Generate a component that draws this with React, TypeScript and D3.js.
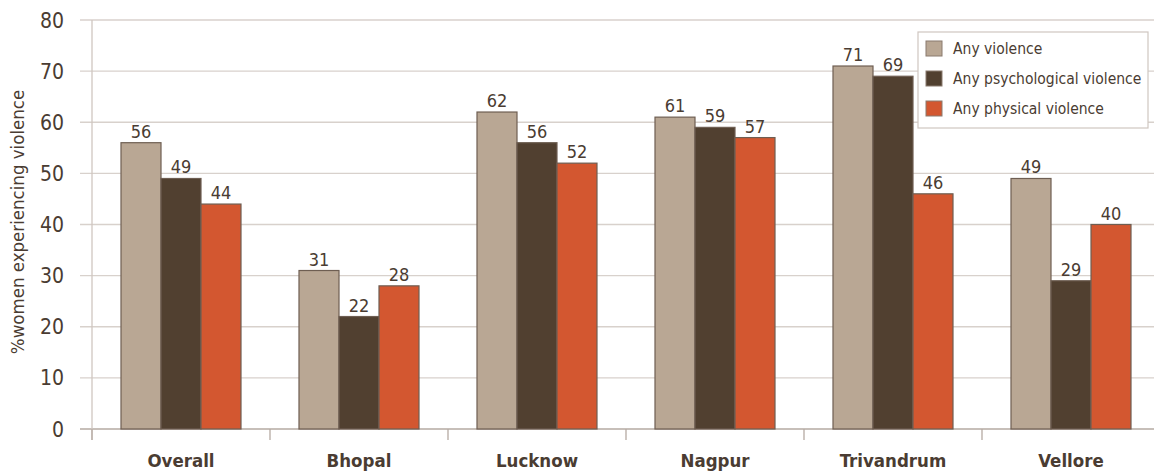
import React from "react";
import * as d3 from "d3";

const categories = ["Overall", "Bhopal", "Lucknow", "Nagpur", "Trivandrum", "Vellore"];
const seriesNames = ["Any violence", "Any psychological violence", "Any physical violence"];
const anyViolence = [56, 31, 62, 61, 71, 49];
const psychological = [49, 22, 56, 59, 69, 29];
const physical = [44, 28, 52, 57, 46, 40];
const yTicks = [0, 10, 20, 30, 40, 50, 60, 70, 80];
const colors = ["#b9a794", "#514030", "#d35730"];

const W = 1154;
const H = 475;
const FONT = "'DejaVu Sans Condensed', 'DejaVu Sans', sans-serif";
const TXT = "#4a3c32";

export default function App() {
  const series = [anyViolence, psychological, physical];
  const x = d3.scaleBand<string>().domain(categories).range([92, 92 + 6 * 178]).paddingInner(0).paddingOuter(0);
  const inner = d3.scaleBand<number>().domain([0, 1, 2]).range([0, x.bandwidth()]).paddingInner(0).paddingOuter(0.725);
  const y = d3.scaleLinear().domain([0, 80]).range([429, 20]);

  return (
    <svg width={W} height={H} style={{ position: "absolute", left: 0, top: 0, background: "#fff" }}>
      {/* grid */}
      {yTicks.map((t) => (
        <g key={t}>
          <line x1={80} x2={W} y1={y(t)} y2={y(t)} stroke={t === 0 ? "#b5aaa2" : "#d8d1cc"} strokeWidth={1.3} />
          <text x={64} y={y(t)} dy="0.36em" textAnchor="end" fontFamily={FONT} fontStretch="condensed" fontSize={21} fill={TXT}>
            {t}
          </text>
        </g>
      ))}
      {/* y axis line */}
      <line x1={92} x2={92} y1={20} y2={440} stroke="#cfc6c0" strokeWidth={1.3} />
      {/* x ticks */}
      {categories.map((c) => (
        <line key={c} x1={x(c)!} x2={x(c)!} y1={429} y2={440} stroke="#b5aaa2" strokeWidth={1.3} />
      ))}
      {/* y label */}
      <text
        transform={`translate(24,222) rotate(-90)`}
        textAnchor="middle"
        fontFamily={FONT}
        fontStretch="condensed"
        fontSize={18.5}
        fill={TXT}
      >
        %women experiencing violence
      </text>
      {/* bars */}
      {categories.map((c, ci) => (
        <g key={c}>
          {series.map((s, si) => {
            const bx = x(c)! + inner(si)!;
            const bw = inner.bandwidth();
            return (
              <g key={si}>
                <rect
                  x={bx}
                  y={y(s[ci])}
                  width={bw}
                  height={y(0) - y(s[ci])}
                  fill={colors[si]}
                  stroke="#6e5e52"
                  strokeWidth={1.2}
                />
                <text
                  x={bx + bw / 2}
                  y={y(s[ci]) - 5}
                  textAnchor="middle"
                  fontFamily={FONT}
                  fontStretch="condensed"
                  fontSize={18}
                  fill={TXT}
                >
                  {s[ci]}
                </text>
              </g>
            );
          })}
          <text
            x={x(c)! + x.bandwidth() / 2}
            y={467}
            textAnchor="middle"
            fontFamily={FONT}
            fontStretch="condensed"
            fontSize={18.5}
            fontWeight="bold"
            fill={TXT}
          >
            {c}
          </text>
        </g>
      ))}
      {/* legend */}
      <g>
        <rect x={918} y={32} width={230} height={96} fill="#fff" stroke="#cfc6c0" strokeWidth={1.2} />
        {seriesNames.map((n, i) => (
          <g key={n} transform={`translate(926, ${41 + i * 30})`}>
            <rect x={0} y={0} width={16} height={15} fill={colors[i]} stroke="#8a7a6e" strokeWidth={1} />
            <text x={27} y={8} dy="0.35em" fontFamily={FONT} fontStretch="condensed" fontSize={15.5} fill={TXT}>
              {n}
            </text>
          </g>
        ))}
      </g>
    </svg>
  );
}
